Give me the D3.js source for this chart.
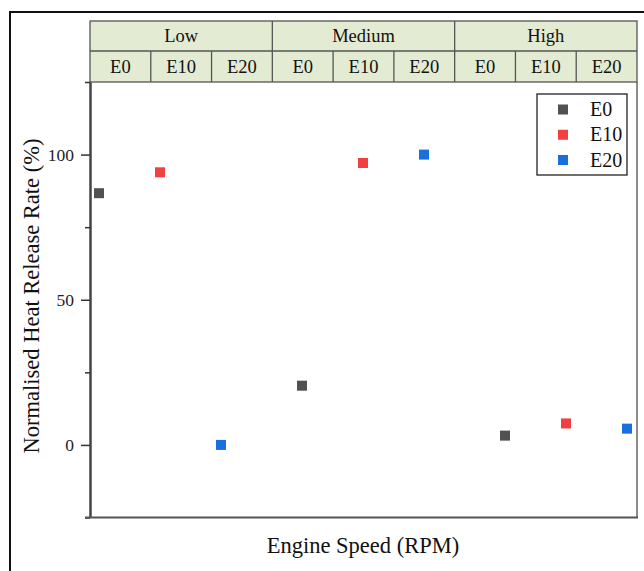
<!DOCTYPE html>
<html>
<head>
<meta charset="utf-8">
<script src="https://cdn.jsdelivr.net/npm/d3@7"></script>
<style>
  body { margin: 0; background: #fff; }
  svg { display: block; font-family: "Liberation Serif", "Times New Roman", serif; }
</style>
</head>
<body>
<svg id="chart"></svg>
<script>
"use strict";

// =================== DATA ===================
const speeds = ["Low", "Medium", "High"];
const fuels = ["E0", "E10", "E20"];
const fuelColors = ["#515151", "#F14040", "#1A6FDF"];
// normalised HRR (%) per speed, in fuel order E0, E10, E20
const lowValues = [86.7, 93.9, 0.0];
const mediumValues = [20.4, 97.1, 100.0];
const highValues = [3.2, 7.4, 5.6];
const majorTicks = [0, 50, 100];
const minorTicks = [-25, 25, 75, 125];

const seriesBySpeed = [lowValues, mediumValues, highValues];
const points = [];
speeds.forEach((s, gi) => {
  fuels.forEach((f, fi) => points.push({ speed: s, fuel: f, fi, value: seriesBySpeed[gi][fi] }));
});

// =================== SETUP ===================
const W = 644, H = 571;
const plot = { left: 90, right: 637, top: 82, bottom: 517.5 };
const headerTop = 21, headerMid = 51;
const svg = d3.select("#chart").attr("width", W).attr("height", H);

// outer frame
svg.append("rect")
  .attr("x", 10).attr("y", 12).attr("width", 700).attr("height", 700)
  .attr("fill", "none").attr("stroke", "#111").attr("stroke-width", 2);

// =================== SCALES ===================
const y = d3.scaleLinear().domain([-25, 125]).range([plot.bottom, plot.top]);
const pw = plot.right - plot.left;
const groupX = d3.scalePoint().domain(speeds).range([plot.left + 9, plot.left + 415]);
const fuelX = d3.scalePoint().domain(fuels).range([0, 122]);
const color = d3.scaleOrdinal().domain(fuels).range(fuelColors);

// header column scales (equal cells)
const cols = speeds.flatMap(s => fuels.map(f => s + "|" + f));
const colX = d3.scaleBand().domain(cols).range([plot.left, plot.right]);
const grpX = d3.scaleBand().domain(speeds).range([plot.left, plot.right]);

// =================== HEADER TABLE ===================
const hdr = svg.append("g");
hdr.append("rect")
  .attr("x", plot.left).attr("y", headerTop)
  .attr("width", pw).attr("height", plot.top - headerTop)
  .attr("fill", "#e3ebd2").attr("stroke", "#555").attr("stroke-width", 1.3);
hdr.append("line")
  .attr("x1", plot.left).attr("x2", plot.right)
  .attr("y1", headerMid).attr("y2", headerMid)
  .attr("stroke", "#555").attr("stroke-width", 1.3);
speeds.forEach((s, i) => {
  if (i > 0) {
    hdr.append("line")
      .attr("x1", grpX(s)).attr("x2", grpX(s))
      .attr("y1", headerTop).attr("y2", plot.top)
      .attr("stroke", "#555").attr("stroke-width", 1.3);
  }
  hdr.append("text")
    .attr("x", grpX(s) + grpX.bandwidth() / 2).attr("y", headerMid - 9)
    .attr("text-anchor", "middle").style("font-size", "18.5px").attr("fill", "#111")
    .text(s);
});
cols.forEach((c, i) => {
  if (i % 3 !== 0) {
    hdr.append("line")
      .attr("x1", colX(c)).attr("x2", colX(c))
      .attr("y1", headerMid).attr("y2", plot.top)
      .attr("stroke", "#555").attr("stroke-width", 1.3);
  }
  hdr.append("text")
    .attr("x", colX(c) + colX.bandwidth() / 2).attr("y", plot.top - 9)
    .attr("text-anchor", "middle").style("font-size", "18.5px").attr("fill", "#111")
    .text(c.split("|")[1]);
});

// =================== AXES ===================
// right border
svg.append("line")
  .attr("x1", plot.right).attr("x2", plot.right)
  .attr("y1", plot.top).attr("y2", plot.bottom)
  .attr("stroke", "#666").attr("stroke-width", 1.5);

const yAxis = d3.axisLeft(y).tickValues(majorTicks).tickSize(9).tickSizeOuter(0).tickPadding(7);
const yMinor = d3.axisLeft(y).tickValues(minorTicks).tickSize(5).tickSizeOuter(0).tickFormat("");

const ga = svg.append("g").attr("transform", `translate(${plot.left},0)`).call(yAxis);
const gm = svg.append("g").attr("transform", `translate(${plot.left},0)`).call(yMinor);
[ga, gm].forEach(g => {
  g.select(".domain").attr("stroke", "#444").attr("stroke-width", 2);
  g.selectAll(".tick line").attr("stroke", "#333").attr("stroke-width", 1.5);
});
ga.selectAll(".tick text")
  .attr("fill", "#222").style("font-size", "17.5px")
  .style("font-family", "'Liberation Serif', serif");

// bottom axis line
svg.append("line")
  .attr("x1", plot.left - 5).attr("x2", plot.right + 1)
  .attr("y1", plot.bottom).attr("y2", plot.bottom)
  .attr("stroke", "#555").attr("stroke-width", 2.2);

// =================== POINTS ===================
const S = 10;
svg.append("g").selectAll("rect.pt")
  .data(points)
  .enter()
  .append("rect")
  .attr("class", "pt")
  .attr("x", d => groupX(d.speed) + fuelX(d.fuel) - S / 2)
  .attr("y", d => y(d.value) - S / 2)
  .attr("width", S).attr("height", S)
  .attr("fill", d => color(d.fuel));

// =================== TITLES ===================
svg.append("text")
  .attr("transform", `translate(39,296) rotate(-90)`)
  .attr("text-anchor", "middle").style("font-size", "22.5px").attr("fill", "#111")
  .text("Normalised Heat Release Rate (%)");

svg.append("text")
  .attr("x", 363).attr("y", 553)
  .attr("text-anchor", "middle").style("font-size", "22.5px").attr("fill", "#111")
  .text("Engine Speed (RPM)");

// =================== LEGEND ===================
const lg = { x: 537, y: 94, w: 90, h: 81 };
svg.append("rect")
  .attr("x", lg.x).attr("y", lg.y).attr("width", lg.w).attr("height", lg.h)
  .attr("fill", "#fff").attr("stroke", "#222").attr("stroke-width", 1.3);
const legY = d3.scalePoint().domain(fuels).range([lg.y + 15.5, lg.y + 66]);
fuels.forEach(f => {
  svg.append("rect")
    .attr("x", lg.x + 26 - S / 2).attr("y", legY(f) - S / 2)
    .attr("width", S).attr("height", S).attr("fill", color(f));
  svg.append("text")
    .attr("x", lg.x + 53).attr("y", legY(f) + 6.5)
    .style("font-size", "20px").attr("fill", "#111")
    .text(f);
});
</script>
</body>
</html>
